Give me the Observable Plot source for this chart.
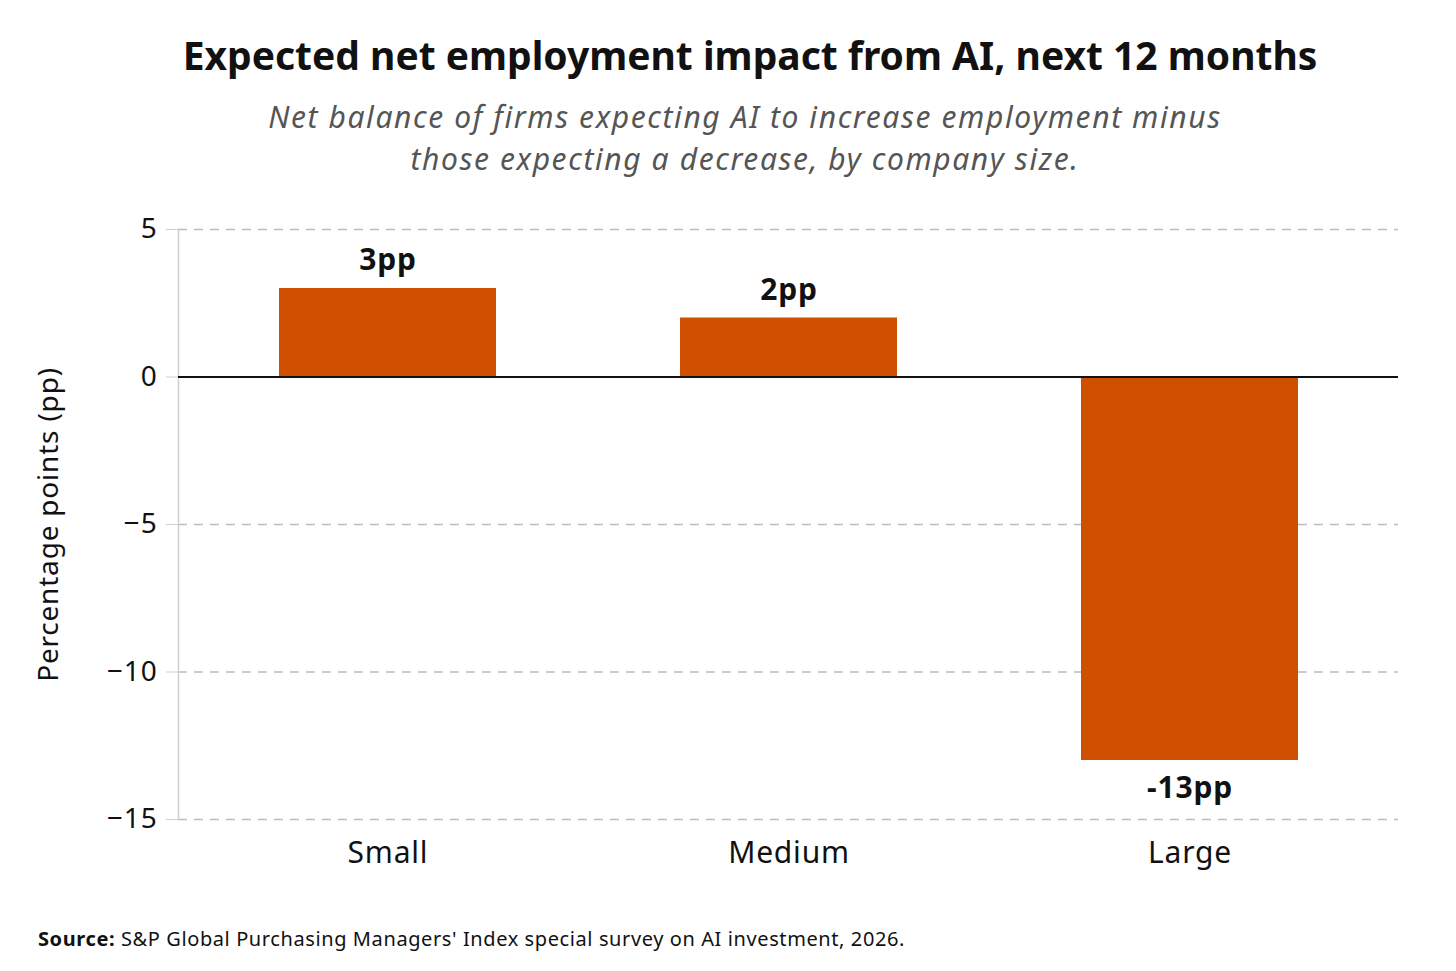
<!DOCTYPE html>
<html>
<head>
<meta charset="utf-8">
<script src="https://cdn.jsdelivr.net/npm/d3@7"></script>
<script src="https://cdn.jsdelivr.net/npm/@observablehq/plot@0.6"></script>
<style>
  html, body { margin: 0; padding: 0; background: #fff; }
  body { width: 1456px; font-family: "Noto Sans", sans-serif; color: #111; }
  .title { padding-top: 30px; height: 50px; line-height: 50px; text-align: center; font-weight: 700; font-size: 39px; letter-spacing: 0px; padding-left: 44px; }
  .subtitle { margin-top: 16px; line-height: 42px; font-size: 30px; letter-spacing: 1.6px; font-style: italic; color: #555; text-align: center; padding-left: 34px; }
  .spacer { height: 20px; }
  .source { margin-top: 46px; padding-left: 38px; font-size: 20px; letter-spacing: 0.6px; color: #111; }
  .source b { font-weight: 700; }
  svg text { letter-spacing: 0.8px; }
</style>
</head>
<body>
<div class="title">Expected net employment impact from AI, next 12 months</div>
<div class="subtitle">Net balance of firms expecting AI to increase employment minus<br>those expecting a decrease, by company size.</div>
<div class="spacer"></div>
<div id="chart"></div>
<div class="source"><b>Source:</b> S&amp;P Global Purchasing Managers' Index special survey on AI investment, 2026.</div>
<script>
const categories = ["Small", "Medium", "Large"];
const values = [3, 2, -13];
const valueLabels = ["3pp", "2pp", "-13pp"];
const yTicks = [5, 0, -5, -10, -15];
const gridTicks = [5, -5, -10, -15];

const data = categories.map((c, i) => ({ category: c, value: values[i], label: valueLabels[i] }));

const chart = Plot.plot({
  width: 1456,
  height: 679,
  marginTop: 29,
  marginBottom: 60,
  marginLeft: 178,
  marginRight: 58,
  style: { fontFamily: "Noto Sans, sans-serif", color: "#111", background: "#fff" },
  x: { domain: categories, paddingInner: 0.46, paddingOuter: 0.25, label: null },
  y: { domain: [-15, 5], label: null },
  marks: [
    Plot.gridY(gridTicks, { stroke: "#bdbdbd", strokeOpacity: 1, strokeWidth: 1.5, strokeDasharray: "9,7" }),
    Plot.frame({ anchor: "left", stroke: "#cfcfcf", strokeWidth: 1.5 }),
    Plot.axisY(yTicks, { tickSize: 12, tickPadding: 9, fontSize: 28, stroke: "#cfcfcf", fill: "#111", label: null }),
    Plot.axisY({ label: "Percentage points (pp)", labelAnchor: "center", labelArrow: "none", ticks: [], tickSize: 0, fontSize: 28, labelOffset: 140, fill: "#111" }),
    Plot.axisX({ tickSize: 0, tickPadding: 22, fontSize: 30, fill: "#111", label: null }),
    Plot.barY(data, { x: "category", y: "value", fill: "#cf5000" }),
    Plot.ruleY([0], { stroke: "#111", strokeWidth: 2 }),
    Plot.text(data.filter(d => d.value >= 0), { x: "category", y: "value", text: "label", dy: -28, fontSize: 30, fontWeight: 700, fill: "#111" }),
    Plot.text(data.filter(d => d.value < 0), { x: "category", y: "value", text: "label", dy: 28, fontSize: 30, fontWeight: 700, fill: "#111" })
  ]
});
document.getElementById("chart").appendChild(chart);
</script>
</body>
</html>
